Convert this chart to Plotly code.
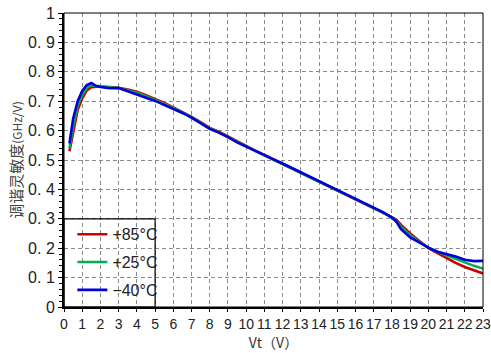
import plotly.graph_objects as go

vt = [0.3, 0.5, 0.75, 1.0, 1.25, 1.5, 1.75, 2.0, 2.5, 3.0, 3.5, 4.0, 4.5, 5.0, 5.5, 6.0,
      6.5, 7.0, 7.5, 8.0, 8.5, 9.0, 9.5, 10.0, 10.5, 11.0, 11.5, 12.0, 12.5, 13.0, 13.5,
      14.0, 14.5, 15.0, 15.5, 16.0, 16.5, 17.0, 17.5, 18.0, 18.25, 18.5, 19.0, 19.5, 20.0,
      20.5, 21.0, 21.5, 22.0, 22.5, 23.0]

s_p85 = [0.530, 0.595, 0.670, 0.710, 0.737, 0.748, 0.750, 0.750, 0.748, 0.746, 0.740, 0.732,
         0.720, 0.708, 0.694, 0.679, 0.664, 0.647, 0.629, 0.609, 0.596, 0.580, 0.562, 0.547,
         0.532, 0.517, 0.502, 0.488, 0.473, 0.458, 0.443, 0.428, 0.413, 0.398, 0.383, 0.368,
         0.353, 0.338, 0.323, 0.306, 0.297, 0.279, 0.250, 0.225, 0.200, 0.183, 0.166, 0.150,
         0.136, 0.125, 0.114]

s_p25 = [0.540, 0.615, 0.685, 0.722, 0.745, 0.755, 0.752, 0.750, 0.747, 0.745, 0.738, 0.729,
         0.717, 0.705, 0.691, 0.677, 0.662, 0.645, 0.627, 0.607, 0.594, 0.578, 0.561, 0.546,
         0.531, 0.516, 0.501, 0.487, 0.472, 0.457, 0.442, 0.427, 0.412, 0.397, 0.382, 0.367,
         0.352, 0.337, 0.322, 0.304, 0.292, 0.272, 0.245, 0.222, 0.202, 0.188, 0.176, 0.163,
         0.150, 0.140, 0.131]

s_m40 = [0.556, 0.640, 0.700, 0.735, 0.755, 0.762, 0.752, 0.748, 0.744, 0.745, 0.734, 0.724,
         0.712, 0.701, 0.688, 0.674, 0.660, 0.644, 0.626, 0.606, 0.593, 0.578, 0.560, 0.545,
         0.531, 0.516, 0.502, 0.488, 0.473, 0.458, 0.443, 0.428, 0.413, 0.398, 0.383, 0.368,
         0.353, 0.338, 0.323, 0.304, 0.290, 0.265, 0.237, 0.220, 0.202, 0.188, 0.181, 0.172,
         0.161, 0.156, 0.157]

series_names = ["+85°C", "+25°C", "−40°C"]
series_colors = ["#cc0000", "#00b050", "#0000dd"]

x_ticks = list(range(0, 24))
y_ticks = [0, 0.1, 0.2, 0.3, 0.4, 0.5, 0.6, 0.7, 0.8, 0.9, 1.0]
y_ticktext = ["0", "0. 1", "0. 2", "0. 3", "0. 4", "0. 5", "0. 6", "0. 7", "0. 8", "0. 9", "1"]

FONT = "Noto Sans CJK SC"
TICKFONT = "Liberation Sans"

fig = go.Figure()
for name, col, ys in zip(series_names, series_colors, [s_p85, s_p25, s_m40]):
    fig.add_trace(go.Scatter(x=vt, y=ys, mode="lines", name=name, legendgroup=name,
                             line=dict(color=col, width=2.6)))

fig.update_layout(
    width=491, height=353,
    margin=dict(l=64, r=8, t=13, b=46, autoexpand=False),
    paper_bgcolor="white", plot_bgcolor="white",
    font=dict(family=FONT, color="#222222"),
    showlegend=True,
    legend=dict(x=0.02, y=0.305, xanchor="left", yanchor="top",
                bgcolor="rgba(0,0,0,0)", borderwidth=0,
                font=dict(size=16, family=TICKFONT, color="#222222"),
                tracegroupgap=4, itemwidth=30),
    xaxis=dict(range=[0, 23], tickmode="array", tickvals=x_ticks,
               showgrid=True, gridcolor="#8a8a8a", griddash="4px,3px", gridwidth=1,
               showline=True, linecolor="black", linewidth=2,
               ticks="outside", ticklen=3, tickcolor="black", tickangle=0,
               automargin=False,
               tickfont=dict(size=14, family=TICKFONT, color="#222222"),
               title=dict(text="Vt（V）", font=dict(size=14, family=FONT, color="#333333"), standoff=2),
               zeroline=False),
    yaxis=dict(range=[0, 1], tickmode="array", tickvals=y_ticks, ticktext=y_ticktext,
               showgrid=True, gridcolor="#8a8a8a", griddash="4px,3px", gridwidth=1,
               showline=True, linecolor="black", linewidth=2,
               ticks="outside", ticklen=4, tickcolor="black", automargin=False,
               minor=dict(dtick=0.02, ticks="outside", ticklen=3, tickcolor="black", showgrid=False),
               tickfont=dict(size=16, family=TICKFONT, color="#222222"),
               title=dict(text="调谐灵敏度<span style='font-size:12px'>(GHz/V)</span>",
                          font=dict(size=15, family=FONT, color="#444444"), standoff=2),
               zeroline=False),
)

# plot frame (top/right) and legend box
fig.add_shape(type="rect", xref="paper", yref="paper", x0=0, y0=0, x1=1, y1=1,
              line=dict(color="black", width=1), layer="above")
fig.add_shape(type="rect", xref="x", yref="y", x0=0, y0=0, x1=5, y1=0.3,
              line=dict(color="black", width=1.2), layer="above")

fig.write_html("out.html")
